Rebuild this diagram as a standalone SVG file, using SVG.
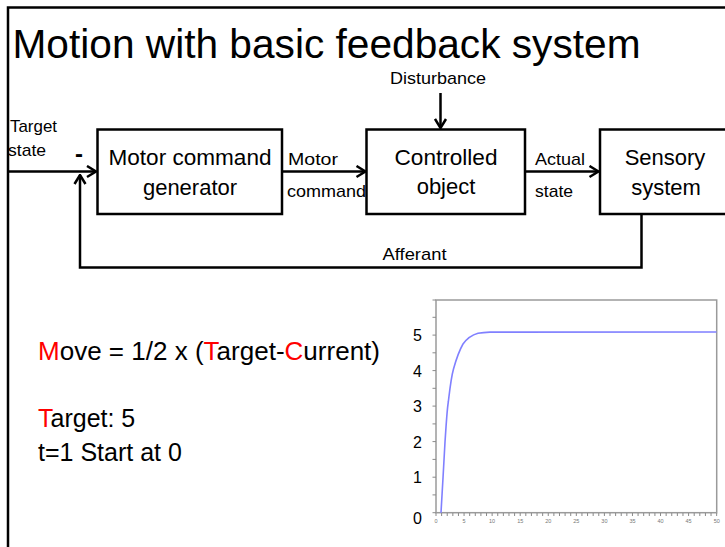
<svg xmlns="http://www.w3.org/2000/svg" width="725" height="547" viewBox="0 0 725 547">
  <style>
    text { font-family: "Liberation Sans", Arial, sans-serif; fill: #000; }
    .title { font-size: 41px; }
    .box { fill: #fff; stroke: #000; stroke-width: 2.5; }
    .bt { font-size: 22px; text-anchor: middle; }
    .sm { font-size: 17px; }
    .wire { fill: none; stroke: #000; stroke-width: 2.5; }
    .eq { font-size: 25px; }
    .red { fill: #ff0000; }
    .ax { fill: none; stroke: #9a9a9a; stroke-width: 1.5; }
    .tick { stroke: #8a8a8a; stroke-width: 1; }
    .yl { font-size: 16px; text-anchor: end; }
    .xl { font-size: 5.5px; text-anchor: middle; fill: #777; }
  </style>
  <defs>
    <marker id="arr" viewBox="0 0 12 14" refX="10.5" refY="7" markerWidth="12" markerHeight="14" markerUnits="userSpaceOnUse" orient="auto">
      <path d="M1.5,1.5 L10.5,7 L1.5,12.5" fill="none" stroke="#000" stroke-width="2.5" stroke-linejoin="miter"/>
    </marker>
  </defs>
  <rect width="725" height="547" fill="#fff"/>

  <!-- frame -->
  <path d="M8,548 V7.5 H726" fill="none" stroke="#000" stroke-width="2.5"/>

  <text class="title" x="12.5" y="58" textLength="628" lengthAdjust="spacingAndGlyphs">Motion with basic feedback system</text>

  <!-- connectors -->
  <g id="connectors">
    <path class="wire" d="M8,171.5 H96" marker-end="url(#arr)"/>
    <path class="wire" d="M641.5,214 V267.5 H80 V175" marker-end="url(#arr)"/>
    <path class="wire" d="M282,171.5 H365.5" marker-end="url(#arr)"/>
    <path class="wire" d="M525,171.5 H598.5" marker-end="url(#arr)"/>
    <path class="wire" d="M440.5,93 V128" marker-end="url(#arr)"/>
    <text class="sm" x="10" y="132" textLength="47" lengthAdjust="spacingAndGlyphs">Target</text>
    <text class="sm" x="8" y="156" textLength="38" lengthAdjust="spacingAndGlyphs">state</text>
    <text x="79" y="162" text-anchor="middle" font-size="24" font-weight="bold">-</text>
    <text class="sm" x="288" y="165" textLength="50" lengthAdjust="spacingAndGlyphs">Motor</text>
    <text class="sm" x="287" y="197" textLength="79" lengthAdjust="spacingAndGlyphs">command</text>
    <text class="sm" x="535" y="165" textLength="50" lengthAdjust="spacingAndGlyphs">Actual</text>
    <text class="sm" x="535" y="197" textLength="38" lengthAdjust="spacingAndGlyphs">state</text>
    <text class="sm" x="390" y="84" textLength="96" lengthAdjust="spacingAndGlyphs">Disturbance</text>
    <text class="sm" x="382.5" y="260" textLength="64" lengthAdjust="spacingAndGlyphs">Afferant</text>
  </g>

  <g id="motor-command-generator">
    <rect class="box" x="97.5" y="129.5" width="184.5" height="84.5"/>
    <text class="bt" x="190" y="165" textLength="163" lengthAdjust="spacingAndGlyphs">Motor command</text>
    <text class="bt" x="190" y="195">generator</text>
  </g>

  <g id="controlled-object">
    <rect class="box" x="366.5" y="129.5" width="158.5" height="84.5"/>
    <text class="bt" x="446" y="165" textLength="103" lengthAdjust="spacingAndGlyphs">Controlled</text>
    <text class="bt" x="446" y="194">object</text>
  </g>

  <g id="sensory-system">
    <rect class="box" x="600" y="129.5" width="140" height="84.5"/>
    <text class="bt" x="665" y="165">Sensory</text>
    <text class="bt" x="666" y="195">system</text>
  </g>

  <!-- equations -->
  <g id="equations">
    <text class="eq" x="38" y="360" textLength="342" lengthAdjust="spacingAndGlyphs"><tspan class="red">M</tspan>ove = 1/2 x (<tspan class="red">T</tspan>arget-<tspan class="red">C</tspan>urrent)</text>
    <text class="eq" x="38" y="426.5"><tspan class="red">T</tspan>arget: 5</text>
    <text class="eq" x="38" y="460.5">t=1 Start at 0</text>
  </g>

  <!-- chart -->
  <g id="chart">
    <rect class="ax" x="436" y="300" width="280.7" height="212.7"/>
    <g class="tick">
      <line x1="432.5" y1="317.3" x2="436" y2="317.3"/>
      <line x1="432.5" y1="335.1" x2="436" y2="335.1"/>
      <line x1="432.5" y1="352.8" x2="436" y2="352.8"/>
      <line x1="432.5" y1="370.6" x2="436" y2="370.6"/>
      <line x1="432.5" y1="388.3" x2="436" y2="388.3"/>
      <line x1="432.5" y1="406.1" x2="436" y2="406.1"/>
      <line x1="432.5" y1="423.9" x2="436" y2="423.9"/>
      <line x1="432.5" y1="441.6" x2="436" y2="441.6"/>
      <line x1="432.5" y1="459.4" x2="436" y2="459.4"/>
      <line x1="432.5" y1="477.2" x2="436" y2="477.2"/>
      <line x1="432.5" y1="494.9" x2="436" y2="494.9"/>
      <line x1="432.5" y1="512.7" x2="436" y2="512.7"/>
      <line x1="432.5" y1="300" x2="436" y2="300"/>
    </g>
    <line x1="435.5" y1="514.5" x2="717.5" y2="514.5" stroke="#8a8a8a" stroke-width="3" stroke-dasharray="1 4.613"/>
    <text class="yl" x="422" y="341">5</text>
    <text class="yl" x="422" y="376.5">4</text>
    <text class="yl" x="422" y="412">3</text>
    <text class="yl" x="422" y="447.5">2</text>
    <text class="yl" x="422" y="483">1</text>
    <text class="yl" x="422" y="523.5">0</text>
    <g>
      <text class="xl" x="436" y="523">0</text>
      <text class="xl" x="464.1" y="523">5</text>
      <text class="xl" x="492.1" y="523">10</text>
      <text class="xl" x="520.2" y="523">15</text>
      <text class="xl" x="548.3" y="523">20</text>
      <text class="xl" x="576.3" y="523">25</text>
      <text class="xl" x="604.4" y="523">30</text>
      <text class="xl" x="632.5" y="523">35</text>
      <text class="xl" x="660.5" y="523">40</text>
      <text class="xl" x="688.6" y="523">45</text>
      <text class="xl" x="716.7" y="523">50</text>
    </g>
    <path d="M441,512.7 L443,478 L445,442 C446.5,420 447,410 448.3,402 C450,388 451,378 453.5,369 C456,360 459,351 463,344 C467,338.5 472,335 478,333.3 C482,332.5 486,332.2 490,332.1 L716.5,332" fill="none" stroke="#8080ff" stroke-width="1.6" stroke-linejoin="round"/>
  </g>
</svg>
